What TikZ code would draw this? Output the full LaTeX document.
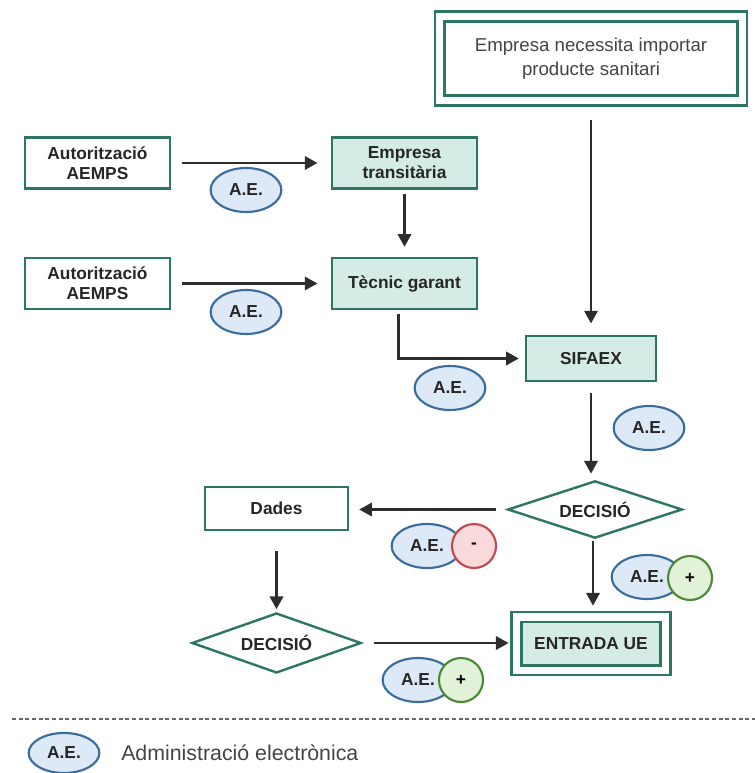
\documentclass[tikz,border=0pt]{standalone}
\usepackage{fontspec}
\setmainfont{Liberation Sans}
\usetikzlibrary{shapes.geometric, arrows.meta}

\definecolor{tealline}{RGB}{46,118,100}
\definecolor{tealfill}{RGB}{213,236,230}
\definecolor{aeline}{RGB}{58,108,158}
\definecolor{aefill}{RGB}{221,233,247}
\definecolor{negline}{RGB}{196,72,82}
\definecolor{negfill}{RGB}{248,218,218}
\definecolor{posline}{RGB}{74,138,52}
\definecolor{posfill}{RGB}{226,242,216}
\definecolor{arrowgray}{RGB}{45,45,45}
\definecolor{textgray}{RGB}{68,68,68}

\begin{document}
\begin{tikzpicture}[x=0.75pt, y=-0.75pt,
    box/.style={draw=tealline, line width=1.8pt, fill=white, minimum width=108.75pt, minimum height=38.25pt, align=center, inner sep=0pt, text=black!85, font=\bfseries\fontsize{13}{15}\selectfont},
    greenbox/.style={box, fill=tealfill},
    dblbox/.style={draw=tealline, line width=1.8pt, double=white, double distance=5.5pt, align=center, inner sep=0pt},
    decision/.style={diamond, aspect=3, draw=tealline, line width=1.8pt, fill=white, inner sep=0pt, text=black!85, font=\bfseries\fontsize{13}{15}\selectfont},
    ae/.style={ellipse, draw=aeline, fill=aefill, line width=1.6pt, minimum width=53pt, minimum height=33pt, inner sep=0pt, text=black!85, font=\bfseries\fontsize{13}{15}\selectfont},
    minusmark/.style={circle, draw=negline, fill=negfill, line width=1.6pt, minimum size=33pt, inner sep=0pt, font=\bfseries\fontsize{13}{15}\selectfont},
    plusmark/.style={circle, draw=posline, fill=posfill, line width=1.6pt, minimum size=33pt, inner sep=0pt, font=\bfseries\fontsize{13}{15}\selectfont},
    arr/.style={draw=arrowgray, line width=1.8pt, -{Triangle[length=9.5pt, width=10pt]}}]

    \useasboundingbox (0,0) rectangle (755,773);

    % Start of the process
    \node[dblbox, minimum width=227pt, minimum height=63pt, text=textgray, font=\fontsize{14}{18}\selectfont] (empresa) at (591,58.5) {Empresa necessita importar\\producte sanitari};

    % Authorisations
    \node[box] (aut1) at (97.5,163) {Autorització\\AEMPS};
    \node[box] (aut2) at (97.5,283.5) {Autorització\\AEMPS};

    \node[greenbox] (transit) at (404.5,163) {Empresa\\transitària};
    \node[greenbox] (tecnic) at (404.5,283.5) {Tècnic garant};
    \node[greenbox, minimum width=97.5pt, minimum height=33.75pt] (sifaex) at (591,358.5) {SIFAEX};

    % Decisions
    \node[decision, minimum width=131pt, minimum height=43pt] (dec1) at (595,509.5) {DECISIÓ};
    \node[box, minimum width=107.25pt, minimum height=32.25pt] (dades) at (276.5,508.5) {Dades};
    \node[decision, minimum width=127pt, minimum height=45pt] (dec2) at (276.5,643) {DECISIÓ};
    \node[dblbox, fill=tealfill, minimum width=111.75pt, minimum height=40pt, text=black!85, font=\bfseries\fontsize{13}{15}\selectfont] (entrada) at (591,643.5) {ENTRADA UE};

    % Arrows
    \draw[arr, shorten <=8pt, shorten >=10pt] (aut1) -- (transit);
    \draw[arr, shorten <=8pt, shorten >=10pt] (aut2) -- (tecnic);
    \draw[arr, shorten <=3pt, shorten >=7.5pt] (transit) -- (tecnic);
    \draw[arr, shorten <=3pt, shorten >=4.5pt] ([xshift=-4.5pt]tecnic.south) |- (sifaex.west);
    \draw[arr, shorten <=13.5pt, shorten >=8.5pt] (empresa) -- (sifaex);
    \draw[arr, shorten <=8pt, shorten >=4.5pt] (sifaex.south) -- (sifaex.south |- dec1.north);
    \draw[arr, shorten <=8pt, shorten >=7.5pt] (dec1.west) -- (dec1.west -| dades.east);
    \draw[arr, shorten <=1.5pt, shorten >=7.5pt] ([xshift=-1.5pt]dec1.south) -- ([xshift=-1.5pt]dec1.south |- entrada.north);
    \draw[arr, shorten <=15pt, shorten >=2pt] (dades) -- (dec2);
    \draw[arr, shorten <=9pt, shorten >=5pt] (dec2.east) -- (dec2.east -| entrada.west);

    % Electronic administration marks
    \node[ae] (ae1) at (246,190) {A.E.};
    \node[ae] (ae2) at (246,312) {A.E.};
    \node[ae] (ae3) at (450,388) {A.E.};
    \node[ae] (ae4) at (649,428) {A.E.};
    \node[ae] (ae5) at (427,546) {A.E.};
    \node[minusmark] (minus5) at (474,546) {-};
    \node[ae] (ae6) at (647,577) {A.E.};
    \node[plusmark] (plus6) at (690,578) {+};
    \node[ae] (ae7) at (418,680) {A.E.};
    \node[plusmark] (plus7) at (461,680) {+};

    % Legend
    \coordinate (sepleft) at (12,719);
    \coordinate (sepright) at (755,719);
    \draw[draw=black!60, line width=1.2pt, dash pattern=on 3pt off 2pt] (sepleft) -- (sepright);
    \node[ae, minimum height=30pt] (legae) at (64,753) {A.E.};
    \node[anchor=west, inner sep=0pt, text=textgray, font=\fontsize{16}{18}\selectfont] (legtext) at (121,753) {Administració electrònica};
\end{tikzpicture}
\end{document}
